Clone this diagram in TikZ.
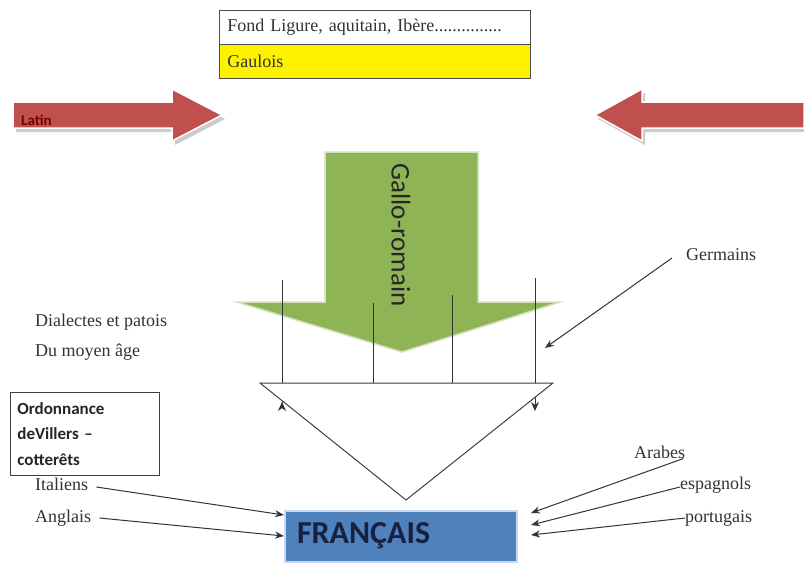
\documentclass[tikz,border=0pt]{standalone}
\usepackage{fontspec}
\setmainfont{Liberation Serif}
\newfontfamily\calibri{Carlito}
\usetikzlibrary{arrows.meta}

\definecolor{latinred}{RGB}{192,80,77}
\definecolor{galloGreen}{RGB}{143,180,86}
\definecolor{frBlue}{RGB}{79,129,189}
\definecolor{frGlow}{RGB}{198,217,241}
\definecolor{frText}{RGB}{22,34,64}

\begin{document}
\begin{tikzpicture}[x=1pt, y=-1pt,
  % Node Styles
  label/.style={inner sep=2pt, text=black!80, font=\fontsize{18}{20}\selectfont},
  rowbox/.style={rectangle, draw=black!70, line width=0.8pt, anchor=north west, minimum width=311pt, minimum height=34pt, text width=295pt, inner xsep=8pt, align=left, text=black!80, font=\fontsize{18}{20}\selectfont},
  ordbox/.style={rectangle, draw=black!75, line width=0.8pt, anchor=north west, minimum width=149pt, minimum height=83pt, text width=135pt, inner xsep=7pt, align=left, text=black!85, font=\calibri\bfseries\fontsize{17}{25.5}\selectfont},
  frbox/.style={rectangle, fill=frBlue, draw=frGlow, line width=2pt, minimum width=232pt, minimum height=51pt, text width=208pt, inner xsep=12pt, align=left, text=frText, font=\calibri\bfseries\fontsize{32}{34}\selectfont},
  % Arrow Styles
  thinarrow/.style={-{Stealth[length=9pt, width=7pt]}, line width=1pt, black!80},
  bigarrow/.style={draw=white, line width=1.5pt},
]
\useasboundingbox[fill=white] (0,0) rectangle (804,566);

% substrates
\node[rowbox] (fond) at (219,10) {Fond Ligure, aquitain, Ibère...............};
\node[rowbox, fill=yellow] (gaulois) at (219,44) {Gaulois};

% latin arrows
\fill[black!20, shift={(3,4)}] (13,102) -- (172,102) -- (172,89) -- (222,115) -- (172,141) -- (172,128) -- (13,128) -- cycle;
\fill[black!20, shift={(3,4)}] (804,102) -- (642,102) -- (642,89) -- (595,115) -- (642,141) -- (642,128) -- (804,128) -- cycle;
\path[bigarrow, fill=latinred] (13,102) -- (172,102) -- (172,89) -- (222,115) -- (172,141) -- (172,128) -- (13,128) -- cycle;
\path[bigarrow, fill=latinred] (804,102) -- (642,102) -- (642,89) -- (595,115) -- (642,141) -- (642,128) -- (804,128) -- cycle;
\node[anchor=west, inner sep=0pt, text=red!45!black, font=\calibri\bfseries\fontsize{15}{16}\selectfont] (latin) at (21,120) {Latin};

% gallo-romain arrow
\path[bigarrow, draw=galloGreen!40!white, fill=galloGreen] (325,152) -- (478,152) -- (478,302) -- (560,302) -- (402,352) -- (237,302) -- (325,302) -- cycle;
\node[rotate=-90, inner sep=0pt, text=black!85, font=\calibri\fontsize{27}{29}\selectfont] (gallo) at (401,235) {Gallo-romain};

% dialect lines
\coordinate (tri-l) at (260,383);
\coordinate (tri-r) at (553,383);
\coordinate (tri-b) at (406,500);
\coordinate (v1) at (282,280);
\coordinate (v2) at (373,303);
\coordinate (v3) at (452,295);
\coordinate (v4) at (535,278);
\draw[black!80, line width=1pt, -{Stealth[reversed, length=9pt, width=8pt]}] (v1) -- (282,411);
\draw[black!80, line width=1pt, -{Stealth[length=9pt, width=8pt]}] (v4) -- (535,411);
\filldraw[fill=white, draw=black!75, line width=1pt] (tri-l) -- (tri-r) -- (tri-b) -- cycle;
\draw[black!80, line width=1pt] (v1) -- (v1 |- tri-l);
\draw[black!80, line width=1pt] (v2) -- (v2 |- tri-l);
\draw[black!80, line width=1pt] (v3) -- (v3 |- tri-l);
\draw[black!80, line width=1pt] (v4) -- (v4 |- tri-l);

\node[label, anchor=west] (dialectes) at (33,322) {Dialectes et patois};
\node[label, anchor=west] (moyenage) at (33,352) {Du moyen âge};
\node[ordbox] (ordonnance) at (10,392) {Ordonnance\\deVillers –\\cotterêts};

% francais
\node[frbox] (francais) at (401,536) {FRANÇAIS};

\node[label, anchor=west] (germains) at (684,255) {Germains};
\coordinate (germ-end) at (545,348);
\draw[thinarrow] ([xshift=-12pt,yshift=-3pt]germains.west) -- (germ-end);

\node[label, anchor=west] (italiens) at (33,484) {Italiens};
\node[label, anchor=west] (anglais) at (33,518) {Anglais};
\draw[thinarrow] ([xshift=6pt,yshift=-3pt]italiens.east) -- ([yshift=21pt]francais.west);
\draw[thinarrow] ([xshift=6pt]anglais.east) -- ([yshift=0pt]francais.west);

\node[label, anchor=west] (arabes) at (632,452) {Arabes};
\node[label, anchor=west] (espagnols) at (678,485) {espagnols};
\node[label, anchor=west] (portugais) at (683,518) {portugais};
\draw[thinarrow] ([xshift=-4pt,yshift=2pt]arabes.south east) -- ([xshift=13pt,yshift=23pt]francais.east);
\draw[thinarrow] ([xshift=2pt,yshift=-2pt]espagnols.west) -- ([xshift=13pt,yshift=11pt]francais.east);
\draw[thinarrow] ([xshift=2pt]portugais.west) -- ([xshift=13pt,yshift=1pt]francais.east);

\end{tikzpicture}
\end{document}
